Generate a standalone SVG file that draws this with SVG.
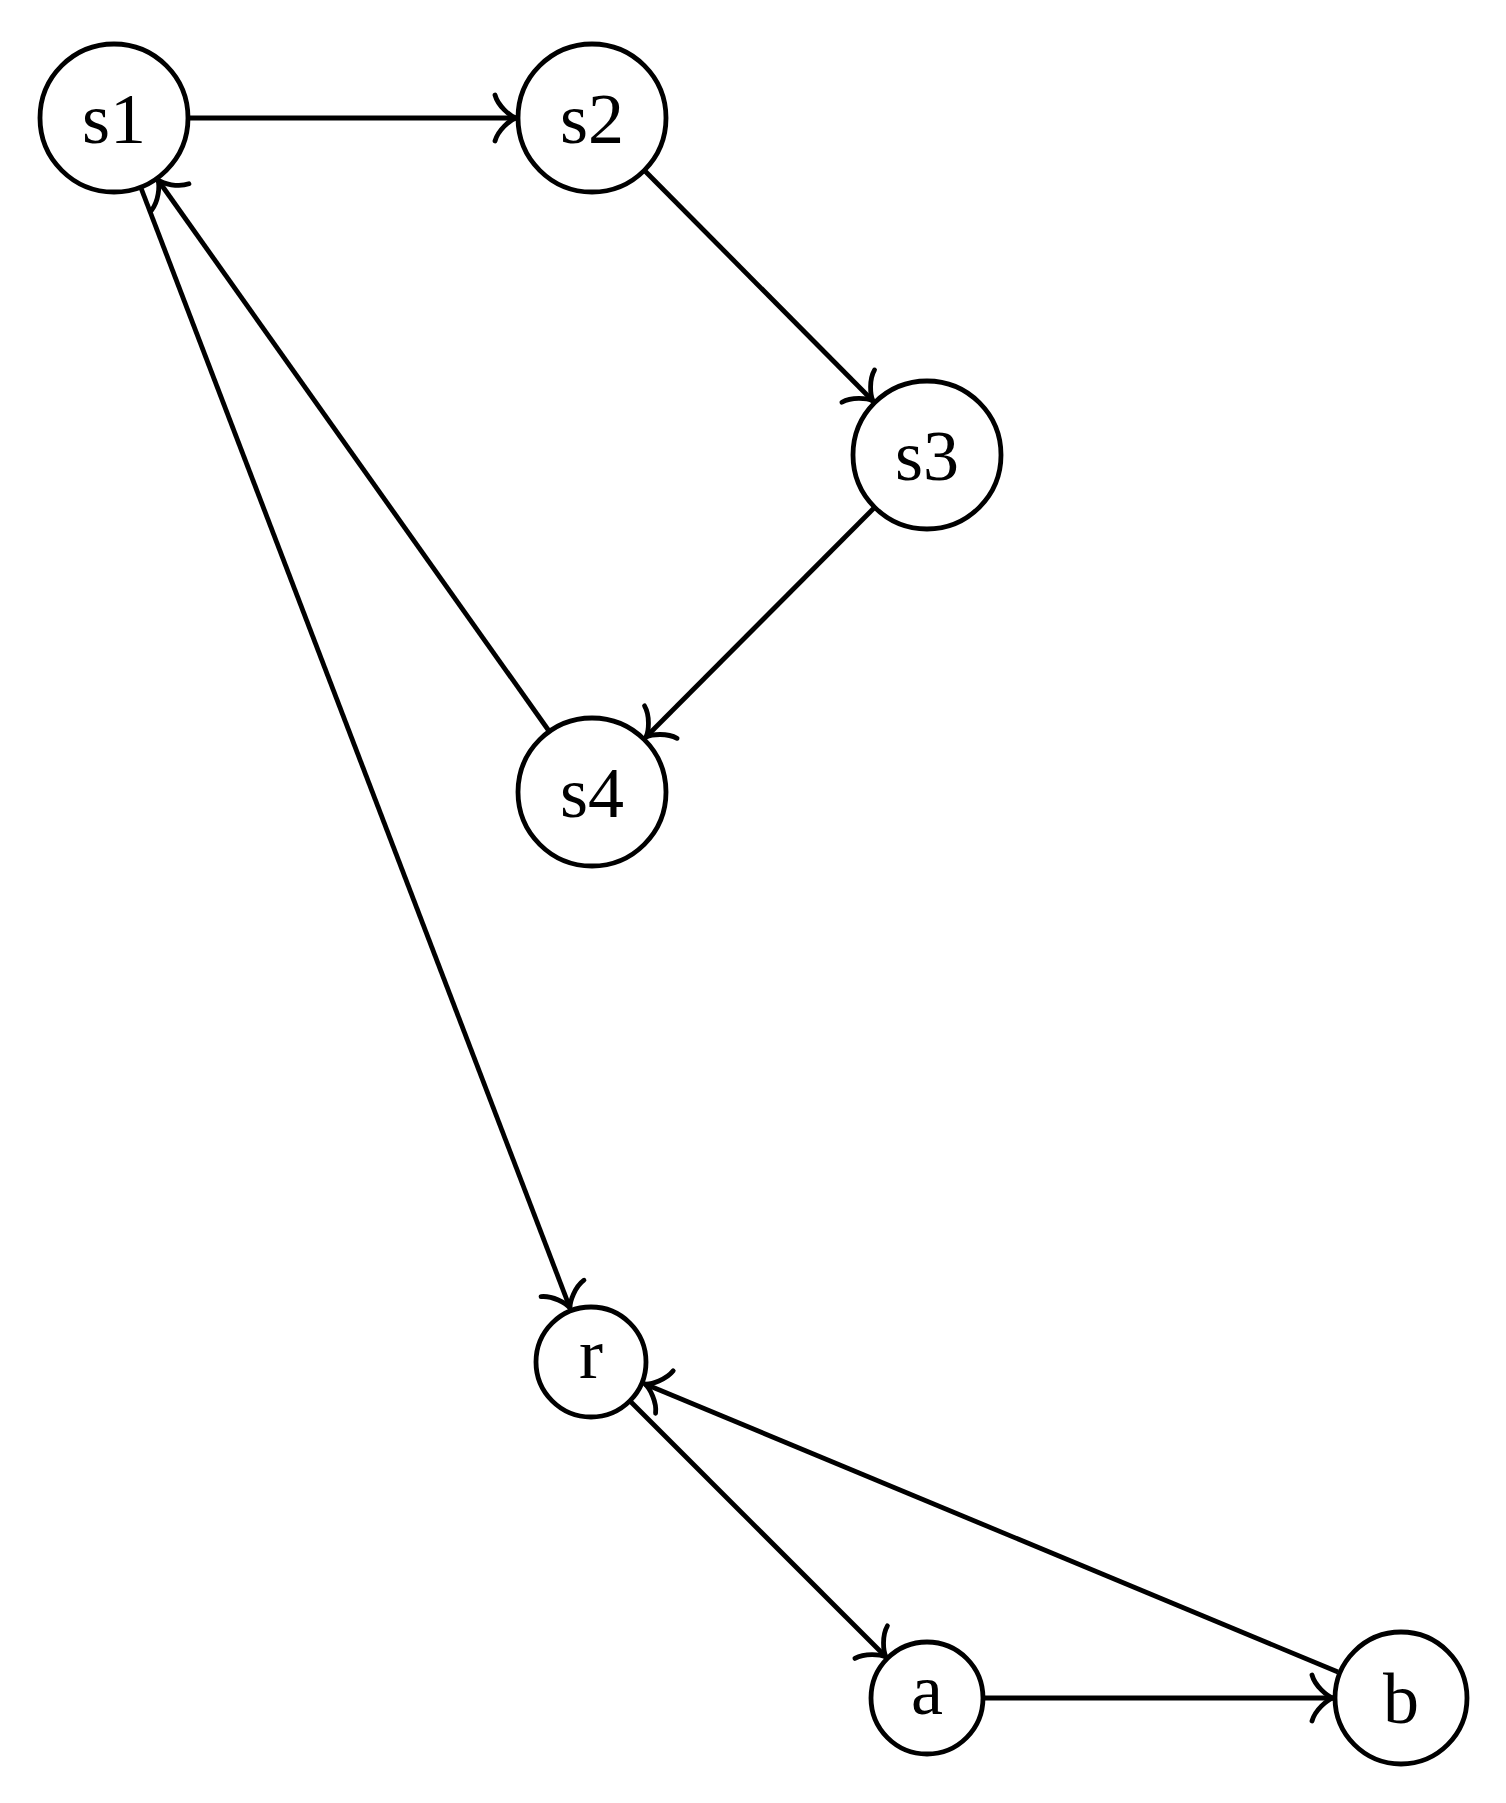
<svg xmlns="http://www.w3.org/2000/svg" width="1506" height="1803" viewBox="0 0 1506 1803">
<style>
.node circle{fill:#fff;stroke:#000;stroke-width:4.8}
.node text{font-family:"Liberation Serif","DejaVu Serif",serif;font-size:72px;fill:#000;text-anchor:middle}
.edge{stroke:#000;stroke-width:4.8;fill:none;marker-end:url(#to)}
</style>
<defs>
<marker id="to" markerUnits="userSpaceOnUse" viewBox="-26 -26 30 52" markerWidth="30" markerHeight="52" refX="0" refY="0" orient="auto" overflow="visible">
<path d="M -21,-23 C -18,-12 -6,-2 0,0 C -6,2 -18,12 -21,23" fill="none" stroke="#000" stroke-width="4.8" stroke-linecap="round"/>
</marker>
</defs>
<rect width="1506" height="1803" fill="#fff"/>
<g id="connectors">
<line class="edge" x1="188" y1="118" x2="516" y2="118"/>
<line class="edge" x1="645" y1="171" x2="873" y2="401"/>
<line class="edge" x1="874" y1="508" x2="646" y2="737"/>
<line class="edge" x1="549" y1="731" x2="158" y2="180"/>
<line class="edge" x1="141" y1="188" x2="570" y2="1308"/>
<line class="edge" x1="631" y1="1402" x2="886" y2="1657"/>
<line class="edge" x1="985" y1="1698" x2="1333" y2="1698"/>
<line class="edge" x1="1338" y1="1672" x2="645" y2="1384"/>
</g>
<g id="s1" class="node"><circle cx="114" cy="118" r="74"/><text x="114" y="143">s1</text></g>
<g id="s2" class="node"><circle cx="592" cy="118" r="74"/><text x="592" y="143">s2</text></g>
<g id="s3" class="node"><circle cx="927" cy="455" r="74"/><text x="927" y="480">s3</text></g>
<g id="s4" class="node"><circle cx="592" cy="792" r="74"/><text x="592" y="817">s4</text></g>
<g id="r" class="node"><circle cx="591" cy="1362" r="55"/><text x="591" y="1378">r</text></g>
<g id="a" class="node"><circle cx="927" cy="1698" r="56"/><text x="927" y="1714">a</text></g>
<g id="b" class="node"><circle cx="1401" cy="1698" r="66"/><text x="1401" y="1723">b</text></g>
</svg>
